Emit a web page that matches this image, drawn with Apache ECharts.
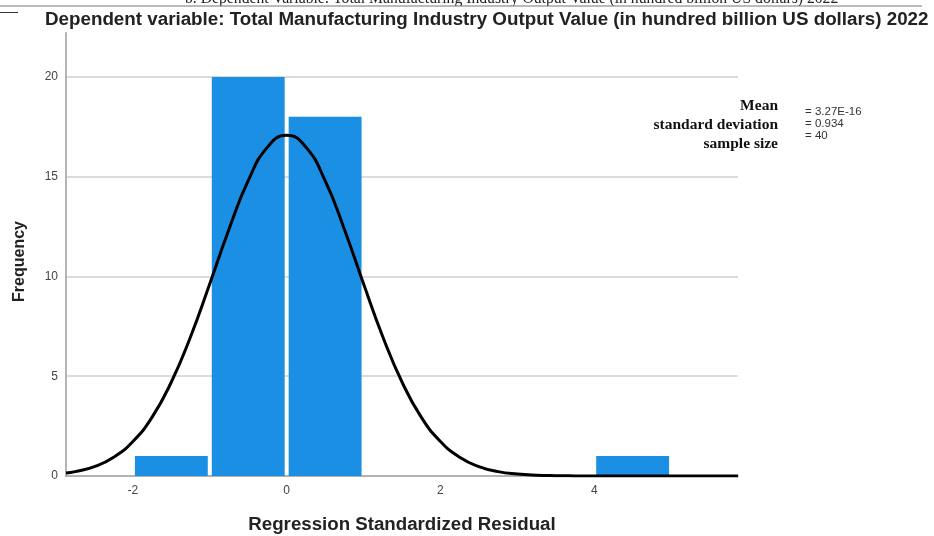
<!DOCTYPE html>
<html>
<head>
<meta charset="utf-8">
<script src="https://cdn.jsdelivr.net/npm/echarts@6/dist/echarts.min.js"></script>
<style>
  html, body { margin: 0; padding: 0; background: #fff; }
  #chart { width: 934px; height: 536px; }
</style>
</head>
<body>
<div id="chart"></div>
<script>
    // histogram bins
    var binStart = [-2, -1, 0, 4];
    var binEnd = [-1, 0, 1, 5];
    var binCount = [1, 20, 18, 1];

    // normal curve, read at steps of 0.25
    var curveX = [-2.87, -2.75, -2.5, -2.25, -2, -1.75, -1.5, -1.25, -1, -0.75, -0.5, -0.25, 0,
                  0.25, 0.5, 0.75, 1, 1.25, 1.5, 1.75, 2, 2.25, 2.5, 2.75, 3, 3.25, 3.5, 3.75, 4, 4.5, 5, 5.87];
    var curveY = [0.15, 0.22, 0.47, 0.94, 1.73, 2.95, 4.71, 6.98, 9.63, 12.37, 14.8, 16.48, 17.08,
                  16.48, 14.8, 12.37, 9.63, 6.98, 4.71, 2.95, 1.73, 0.94, 0.47, 0.22, 0.1, 0.04, 0.015, 0.005, 0.001, 0, 0, 0];

    var xTicks = [-2, 0, 2, 4];
    var statNames = ['Mean', 'standard deviation', 'sample size'];
    var statValues = ['= 3.27E-16', '= 0.934', '= 40'];

    var chart = echarts.init(document.getElementById('chart'));

    var barData = [];
    for (var i = 0; i < binCount.length; i++) {
        barData.push([binStart[i], binEnd[i], binCount[i]]);
    }
    var curveData = [];
    for (var j = 0; j < curveX.length; j++) {
        curveData.push([curveX[j], curveY[j]]);
    }

    var graphics = [
        {
            type: 'text', left: 185, top: -9,
            style: { text: 'b. Dependent Variable: Total Manufacturing Industry Output Value (in hundred billion US dollars) 2022',
                     font: '15.7px "Liberation Serif"', fill: '#222' }
        },
        { type: 'rect', shape: { x: 0, y: 6, width: 934, height: 4 }, style: { fill: '#fff' }, z: 10, silent: true },
        { type: 'line', shape: { x1: 0, y1: 6, x2: 922, y2: 6 }, style: { stroke: '#777', lineWidth: 1 }, z: 11 },
        { type: 'line', shape: { x1: 0, y1: 12.5, x2: 18, y2: 12.5 }, style: { stroke: '#333', lineWidth: 1 }, z: 11 },
        {
            type: 'text', left: 45, top: 10,
            style: { text: 'Dependent variable: Total Manufacturing Industry Output Value (in hundred billion US dollars) 2022',
                     font: 'bold 18.8px "Liberation Sans"', fill: '#222' }, z: 12
        }
    ];
    for (var k = 0; k < statNames.length; k++) {
        graphics.push({
            type: 'text', x: 778, y: 106 + k * 19,
            style: { text: statNames[k], font: 'bold 15.5px "Liberation Serif"', fill: '#111',
                     align: 'right', verticalAlign: 'middle' }
        });
        graphics.push({
            type: 'text', x: 805, y: 112 + k * 12,
            style: { text: statValues[k], font: '11.5px "Liberation Sans"', fill: '#333',
                     align: 'left', verticalAlign: 'middle' }
        });
    }

    var option = {
        animation: false,
        backgroundColor: '#fff',
        textStyle: { fontFamily: 'Liberation Sans' },
        grid: { left: 66, right: 196, top: 33, bottom: 60, outerBoundsMode: 'none' },
        graphic: graphics,
        xAxis: {
            type: 'value',
            min: -2.87,
            max: 5.87,
            name: 'Regression Standardized Residual',
            nameLocation: 'middle',
            nameGap: 39,
            nameTextStyle: { fontSize: 18.7, fontWeight: 'bold', color: '#222' },
            axisLine: { show: true, lineStyle: { color: '#999', width: 1.5 } },
            axisTick: { show: false },
            axisLabel: { customValues: xTicks, color: '#444', fontSize: 12, margin: 9 },
            splitLine: { show: false }
        },
        yAxis: {
            type: 'value',
            min: 0,
            max: 22.2,
            interval: 5,
            name: 'Frequency',
            nameLocation: 'middle',
            nameGap: 38,
            nameTextStyle: { fontSize: 16, fontWeight: 'bold', color: '#222', padding: [0, 14, 0, 0] },
            axisLine: { show: true, onZero: false, lineStyle: { color: '#b5b5b5', width: 2 } },
            axisTick: { show: false },
            axisLabel: { color: '#444', fontSize: 12, margin: 8, showMaxLabel: false },
            splitLine: { show: true, showMaxLine: false, showMinLine: false, lineStyle: { color: '#cfcfcf', width: 1.5 } }
        },
        series: [
            {
                type: 'custom',
                data: barData,
                encode: { x: [0, 1], y: 2 },
                renderItem: function (params, api) {
                    var p0 = api.coord([api.value(0), 0]);
                    var p1 = api.coord([api.value(1), api.value(2)]);
                    return {
                        type: 'rect',
                        shape: { x: p0[0] + 2, y: p1[1], width: p1[0] - p0[0] - 4, height: p0[1] - p1[1] },
                        style: { fill: '#1a8fe3' }
                    };
                },
                z: 2
            },
            {
                type: 'line',
                data: curveData,
                smooth: true,
                showSymbol: false,
                lineStyle: { color: '#000', width: 3 },
                z: 3
            }
        ]
    };
    chart.setOption(option);
</script>
</body>
</html>
